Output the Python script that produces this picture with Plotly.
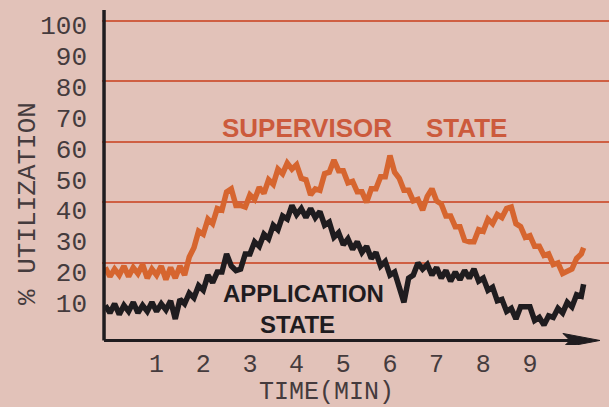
import plotly.graph_objects as go

# Sample times (minutes)
time_min = [
    -0.1, 0.0, 0.1, 0.2, 0.3, 0.4, 0.5, 0.6, 0.7, 0.8, 0.9,
    1.0, 1.1, 1.2, 1.3, 1.4, 1.5, 1.6, 1.7, 1.8, 1.9,
    2.0, 2.1, 2.2, 2.3, 2.4, 2.5, 2.6, 2.7, 2.8, 2.9,
    3.0, 3.1, 3.2, 3.3, 3.4, 3.5, 3.6, 3.7, 3.8, 3.9,
    4.0, 4.1, 4.2, 4.3, 4.4, 4.5, 4.6, 4.7, 4.8, 4.9,
    5.0, 5.1, 5.2, 5.3, 5.4, 5.5, 5.6, 5.7, 5.8, 5.9,
    6.0, 6.1, 6.2, 6.3, 6.4, 6.5, 6.6, 6.7, 6.8, 6.9,
    7.0, 7.1, 7.2, 7.3, 7.4, 7.5, 7.6, 7.7, 7.8, 7.9,
    8.0, 8.1, 8.2, 8.3, 8.4, 8.5, 8.6, 8.7, 8.8, 8.9,
    9.0, 9.1, 9.2, 9.3, 9.4, 9.5, 9.6, 9.7, 9.8, 9.9,
    10.0, 10.1, 10.15,
]

# % utilization in supervisor state
supervisor = [
    18.5, 15.5, 18, 16, 19, 15.5, 18.5, 16.5, 19.5, 15, 18,
    16, 19, 14.5, 18.5, 15, 19, 16, 22, 25, 30.5,
    29.5, 34.5, 33, 38, 37.5, 43.5, 44.5, 39, 39, 38.5,
    42.5, 41, 45, 43, 47.5, 46, 51, 49.5, 53, 51,
    52.5, 48, 47.5, 42.5, 44.5, 44, 49.5, 50, 54, 50.5,
    50.5, 46.5, 47, 43.5, 43.5, 40, 44.5, 44.5, 48.5, 48.5,
    55.5, 50, 48, 44, 44, 40.5, 41, 37.5, 42, 44.5,
    40.5, 39.5, 35.5, 35.5, 32, 32, 27.5, 27, 27, 31,
    30.5, 34.5, 33, 36, 35, 38, 38.5, 33, 32, 28.5,
    29, 25.5, 25.5, 22.5, 23, 19.5, 20, 16.5, 17.5, 18,
    21.5, 23, 25,
]

# % utilization in application state
application = [
    6, 3.5, 6.5, 3, 6, 4, 7, 3.5, 6, 4, 7,
    4, 6.5, 4.5, 7.5, 1.5, 8, 6.5, 10, 8.5, 12.5,
    11, 16, 13.5, 17, 17, 23, 19, 17.5, 18, 23,
    23, 27, 25.5, 29.5, 28, 32.5, 31, 35.5, 34.5, 39,
    36, 38, 35, 38, 35, 37, 32.5, 33.5, 28.5, 30,
    26, 28, 24.5, 27, 23.5, 25.5, 21.5, 23.5, 19, 20.5,
    16, 17, 12, 7, 15, 16, 20, 18, 19.5, 16,
    18.5, 15, 17.5, 14, 17, 14.5, 17.5, 15, 18, 14,
    15, 11, 12, 7.5, 8, 4, 5, 1.5, 5.5, 5.5,
    5.5, 1, 2, -0.5, 2.5, 2, 5, 3.5, 7, 5.5,
    9.5, 9, 13,
]

y_tick_vals = [10, 20, 30, 40, 50, 60, 70, 80, 90, 100]
grid_vals = [20, 40, 60, 80, 100]
x_tick_vals = [1, 2, 3, 4, 5, 6, 7, 8, 9]

PAPER = "#e2c2b9"
ORANGE = "#d6652f"
GRID = "#cf5f43"
INK = "#1f1c1f"
TYPE = "#453b3d"
TYPEWRITER = "Liberation Mono, Courier New, monospace"
SANS = "Liberation Sans, Arial, sans-serif"

X_RANGE = [-0.17, 10.694]
Y_RANGE = [-7.1, 103.6]
AXIS_Y = -5.6     # height of the time axis line
ARROW_TIP = 10.5  # time axis arrow tip

fig = go.Figure()

fig.add_trace(go.Scatter(
    x=time_min, y=supervisor, mode="lines",
    line=dict(color=ORANGE, width=5.5, shape="linear"),
    hoverinfo="skip", showlegend=False,
))
fig.add_trace(go.Scatter(
    x=time_min, y=application, mode="lines",
    line=dict(color=INK, width=5.5, shape="linear"),
    hoverinfo="skip", showlegend=False,
))
# empty trace that carries the labelled utilization axis
fig.add_trace(go.Scatter(x=[None], y=[None], yaxis="y2", hoverinfo="skip",
                         showlegend=False))

fig.update_layout(
    width=609, height=407,
    margin=dict(l=102, r=0, t=10, b=62),
    paper_bgcolor=PAPER, plot_bgcolor=PAPER,
    showlegend=False,
    xaxis=dict(
        range=X_RANGE, tickvals=x_tick_vals,
        ticktext=[str(v) for v in x_tick_vals],
        showgrid=False, zeroline=False, showline=False, ticks="",
        tickfont=dict(family=TYPEWRITER, size=25, color=TYPE),
        ticklabelstandoff=1,
    ),
    yaxis=dict(
        range=Y_RANGE, tickvals=grid_vals, showticklabels=False,
        showgrid=True, gridcolor=GRID, gridwidth=2,
        zeroline=False, showline=False, ticks="",
    ),
    yaxis2=dict(
        overlaying="y", side="left", range=[-3.59, 104.86],
        tickvals=y_tick_vals, ticktext=[str(v) for v in y_tick_vals],
        showgrid=False, zeroline=False, showline=False, ticks="",
        tickfont=dict(family=TYPEWRITER, size=26, color=TYPE),
        ticklabelstandoff=14,
    ),
)

# axis lines and arrow
fig.add_shape(type="line", xref="paper", yref="y", x0=0.004, x1=0.004,
              y0=AXIS_Y, y1=Y_RANGE[1], line=dict(color=INK, width=3.5))
fig.add_shape(type="line", xref="paper", yref="y", x0=0.004, x1=0.95,
              y0=AXIS_Y, y1=AXIS_Y, line=dict(color=INK, width=3))
fig.add_shape(type="path", xref="x", yref="y",
              xsizemode="pixel", ysizemode="pixel",
              xanchor=ARROW_TIP, yanchor=AXIS_Y,
              path="M0,0 L-37,7 L-30,0 L-37,-7 Z",
              fillcolor=INK, line=dict(color=INK, width=1))

fig.add_annotation(text="<b>SUPERVISOR</b>", x=4.23, y=64.6, xref="x", yref="y",
                   showarrow=False, font=dict(family=SANS, size=26, color="#cc5a3c"))
fig.add_annotation(text="<b>STATE</b>", x=7.63, y=64.6, xref="x", yref="y",
                   showarrow=False, font=dict(family=SANS, size=26, color="#cc5a3c"))
fig.add_annotation(text="<b>APPLICATION</b>", x=4.15, y=9.9, xref="x", yref="y",
                   showarrow=False, borderpad=0,
                   font=dict(family=SANS, size=24, color=INK))
fig.add_annotation(text="<b>STATE</b>", x=4.02, y=-0.3, xref="x", yref="y",
                   showarrow=False, borderpad=0,
                   font=dict(family=SANS, size=24, color=INK))

fig.add_annotation(text="TIME(MIN)", x=4.65, y=-0.142, xref="x", yref="paper",
                   showarrow=False, xanchor="center", yanchor="middle",
                   font=dict(family=TYPEWRITER, size=25, color=TYPE))
fig.add_annotation(text="% UTILIZATION", x=-0.146, y=0.424, xref="paper", yref="paper",
                   showarrow=False, textangle=-90, xanchor="center", yanchor="middle",
                   font=dict(family=TYPEWRITER, size=26, color=TYPE))

fig.write_html("out.html")
